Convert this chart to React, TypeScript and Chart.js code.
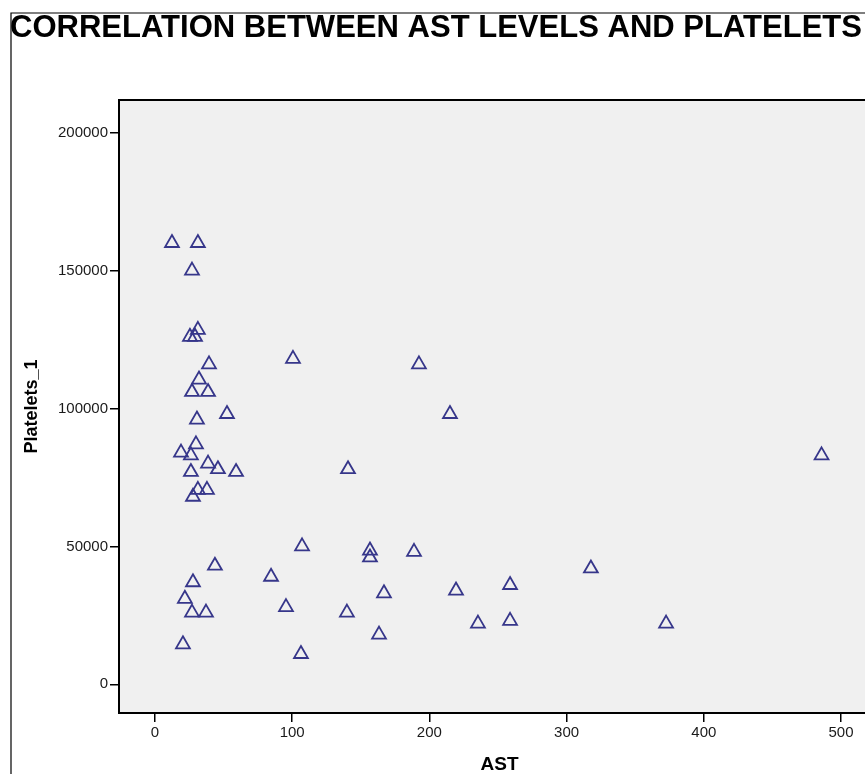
import React, { useEffect, useRef } from "react";
import { Chart, registerables } from "chart.js";

Chart.register(...registerables);

const TITLE = "CORRELATION BETWEEN AST LEVELS AND PLATELETS";
const X_TITLE = "AST";
const Y_TITLE = "Platelets_1";

const astValues = [
  12.4, 31.3, 27.0, 31.3, 25.5, 29.2, 39.4, 32.1, 27.0, 38.7,
  30.6, 52.5, 29.9, 19.0, 26.2, 26.2, 38.7, 45.9, 59.1, 27.7,
  31.3, 37.9, 43.7, 27.7, 21.8, 27.0, 37.2, 20.4, 100.6, 192.4,
  215.0, 140.7, 107.2, 156.7, 156.7, 188.8, 84.6, 166.9, 219.4, 258.8,
  95.5, 139.9, 163.3, 235.4, 258.8, 106.4, 485.8, 317.7, 372.5,
];
const plateletValues = [
  160000, 160000, 150000, 128500, 126000, 126000, 116000, 110500, 106000, 106000,
  96000, 98000, 87000, 84000, 83000, 77000, 80000, 78000, 77000, 68000,
  70500, 70500, 43000, 37000, 31000, 26000, 26000, 14500, 118000, 116000,
  98000, 78000, 50000, 48500, 46000, 48000, 39000, 33000, 34000, 36000,
  28000, 26000, 18000, 22000, 23000, 11000, 83000, 42000, 22000,
];

const xTicks = [0, 100, 200, 300, 400, 500];
const yTicks = [0, 50000, 100000, 150000, 200000];

const FONT = '"Liberation Sans", Arial, sans-serif';

const framePlugin = {
  id: "spssFrame",
  beforeDraw(chart: any) {
    const { ctx, chartArea: a } = chart;
    ctx.save();
    ctx.fillStyle = "#ffffff";
    ctx.fillRect(0, 0, chart.width, chart.height);
    ctx.fillStyle = "#f0f0f0";
    ctx.fillRect(a.left, a.top, a.right - a.left, a.bottom - a.top);
    ctx.restore();
  },
  afterDraw(chart: any) {
    const { ctx, chartArea: a } = chart;
    ctx.save();
    ctx.strokeStyle = "#000";
    ctx.lineWidth = 2;
    ctx.beginPath();
    ctx.moveTo(a.right + 2, a.top);
    ctx.lineTo(a.left, a.top);
    ctx.lineTo(a.left, a.bottom);
    ctx.lineTo(a.right + 2, a.bottom);
    ctx.stroke();
    // outer figure border (left and top)
    ctx.lineWidth = 1.2;
    ctx.beginPath();
    ctx.moveTo(chart.width, 13);
    ctx.lineTo(11, 13);
    ctx.lineTo(11, chart.height);
    ctx.stroke();
    // title
    ctx.fillStyle = "#000";
    ctx.font = "bold 31px " + FONT;
    ctx.textBaseline = "alphabetic";
    ctx.textAlign = "left";
    const w = ctx.measureText(TITLE).width;
    ctx.translate(10, 37);
    ctx.scale(852 / w, 1);
    ctx.fillText(TITLE, 0, 0);
    ctx.restore();
  },
};

export default function App() {
  const canvasRef = useRef<HTMLCanvasElement | null>(null);

  useEffect(() => {
    const canvas = canvasRef.current;
    if (!canvas) return;
    const data = astValues.map((x, i) => ({ x, y: plateletValues[i] }));
    const chart = new Chart(canvas, {
      type: "scatter",
      data: {
        datasets: [
          {
            data,
            pointStyle: "triangle",
            pointRadius: 8,
            pointHoverRadius: 8,
            borderWidth: 1.8,
            borderColor: "#36368a",
            backgroundColor: "rgba(0,0,0,0)",
          },
        ],
      },
      options: {
        animation: false,
        responsive: false,
        devicePixelRatio: 1,
        layout: { autoPadding: false, padding: { top: 100, left: 0, right: 0, bottom: 0 } },
        plugins: {
          legend: { display: false },
          title: { display: false },
          tooltip: { enabled: false },
        },
        scales: {
          x: {
            type: "linear",
            min: -26.2,
            max: 528.4,
            afterBuildTicks: (scale: any) => {
              scale.ticks = xTicks.map((v) => ({ value: v }));
            },
            afterFit: (scale: any) => {
              scale.height = 61;
              scale.paddingLeft = 0;
              scale.paddingRight = 0;
            },
            grid: {
              drawOnChartArea: false,
              drawTicks: true,
              tickLength: 9,
              color: "#000",
              lineWidth: 1.5,
            },
            border: { display: false },
            ticks: {
              font: { size: 15, family: FONT },
              color: "#1a1a1a",
              padding: 2,
              maxRotation: 0,
            },
            title: {
              display: true,
              text: X_TITLE,
              color: "#000",
              font: { size: 19, weight: "bold", family: FONT, lineHeight: 1.0 },
              padding: { top: 0, bottom: 0 },
            },
          },
          y: {
            type: "linear",
            min: -10400,
            max: 211850,
            afterBuildTicks: (scale: any) => {
              scale.ticks = yTicks.map((v) => ({ value: v }));
            },
            afterFit: (scale: any) => {
              scale.width = 119;
              scale.paddingTop = 0;
              scale.paddingBottom = 0;
            },
            grid: {
              drawOnChartArea: false,
              drawTicks: true,
              tickLength: 9,
              color: "#000",
              lineWidth: 1.5,
            },
            border: { display: false },
            ticks: {
              font: { size: 15, family: FONT },
              color: "#1a1a1a",
              padding: 2,
              callback: (v: any) => String(v),
            },
            title: {
              display: true,
              text: Y_TITLE,
              color: "#000",
              font: { size: 18, weight: "bold", family: FONT },
              padding: { top: 21, bottom: 0 },
            },
          },
        },
      },
      plugins: [framePlugin],
    });
    return () => chart.destroy();
  }, []);

  return (
    <div
      style={{
        position: "absolute",
        left: 0,
        top: 0,
        width: 865,
        height: 774,
        overflow: "hidden",
        background: "#fff",
      }}
    >
      <canvas ref={canvasRef} width={880} height={774} style={{ display: "block" }} />
    </div>
  );
}
